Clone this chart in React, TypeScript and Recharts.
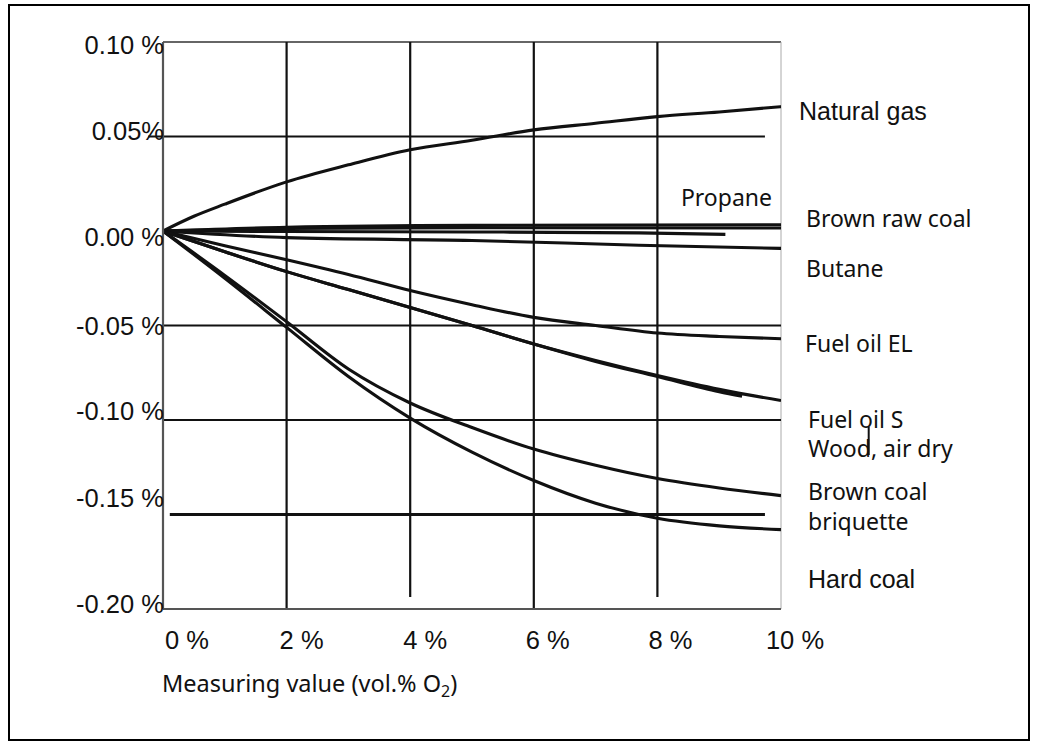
import React from 'react';
import { LineChart, Line, XAxis, YAxis, ReferenceLine } from 'recharts';

// Axis ticks
const xTicks = [0, 2, 4, 6, 8, 10];
const xTickLabels = ['0 %', '2 %', '4 %', '6 %', '8 %', '10 %'];
const yTicks = [0.1, 0.05, 0, -0.05, -0.1, -0.15, -0.2];
const yTickLabels = ['0.10 %', '0.05%', '0.00 %', '-0.05 %', '-0.10 %', '-0.15 %', '-0.20 %'];

const naturalGas = [[0, 0], [0.5, 0.0078], [1, 0.0142], [2, 0.026], [3, 0.035], [4, 0.043], [5, 0.048], [6, 0.0535], [7, 0.057], [8, 0.0605], [9, 0.063], [10, 0.0658]];
const propane = [[0, 0], [2, 0.002], [5, 0.003], [10, 0.0033]];
const brownRawCoal = [[0, 0], [2, 0.0013], [5, 0.0017], [10, 0.0016]];
const propaneShort = [[0, 0], [2, -0.0003], [5, -0.0005], [7.7, -0.001], [9.1, -0.0018]];
const butane = [[0, 0], [2, -0.0035], [5, -0.005], [7.7, -0.0075], [10, -0.0092]];
const fuelOilEL = [[0, 0], [1, -0.0078], [2, -0.0152], [3, -0.023], [4, -0.0315], [5, -0.039], [6, -0.0457], [7, -0.05], [8, -0.054], [9, -0.0558], [10, -0.057]];
const fuelOilS = [[0, 0], [1, -0.011], [2, -0.0215], [3, -0.031], [4, -0.0405], [5, -0.05], [6, -0.0598], [7, -0.069], [8, -0.077], [9, -0.085], [9.37, -0.0874]];
const woodAirDry = [[0, 0], [1, -0.011], [2, -0.0215], [3, -0.031], [4, -0.0405], [5, -0.05], [6, -0.0598], [7, -0.0685], [8, -0.0765], [9, -0.0838], [10, -0.0897]];
const brownCoalBriquette = [[0, 0], [1, -0.0235], [2, -0.048], [3, -0.073], [4, -0.091], [5, -0.104], [6, -0.1154], [7, -0.124], [8, -0.131], [9, -0.136], [10, -0.14]];
const hardCoal = [[0, 0], [1, -0.025], [2, -0.051], [3, -0.077], [4, -0.099], [5, -0.117], [6, -0.132], [7, -0.144], [8, -0.152], [9, -0.156], [10, -0.158]];

const series = [naturalGas, propane, brownRawCoal, propaneShort, butane, fuelOilEL, fuelOilS, woodAirDry, brownCoalBriquette, hardCoal];

const toPoints = (arr: number[][]) => arr.map(([x, y]) => ({ x, y }));

const ARIAL = '"Liberation Sans", Arial, sans-serif';
const HUMAN = '"Noto Sans", sans-serif';
const INK = '#111';

// label nudges (the printed figure is not evenly spaced)
const yLabelBaseline: Record<string, number> = { '0.1': 12, '0.05': 3, '0': 15, '-0.05': 9, '-0.1': 0, '-0.15': -8, '-0.2': 4 };
const xLabelShift: Record<string, number> = { '0': 24, '2': 15, '4': 15, '6': 14, '8': 13, '10': 14 };

function YTick({ x, y, payload }: any) {
  const i = yTicks.indexOf(payload.value);
  return (
    <text x={x + 3} y={y + (yLabelBaseline[String(payload.value)] ?? 8)} textAnchor="end" fontFamily={ARIAL} fontSize={25.5} fill={INK}>
      {yTickLabels[i]}
    </text>
  );
}

function XTick({ x, y, payload }: any) {
  const i = xTicks.indexOf(payload.value);
  return (
    <text x={x + (xLabelShift[String(payload.value)] ?? 14)} y={y + 38} textAnchor="middle" fontFamily={ARIAL} fontSize={25.5} fill={INK}>
      {xTickLabels[i]}
    </text>
  );
}

export default function App() {
  return (
    <div style={{ position: 'absolute', left: 0, top: 0, width: 1038, height: 747, background: '#fff' }}>
      <div style={{ position: 'absolute', left: 8, top: 4, width: 1022, height: 737, border: '2.5px solid #000', boxSizing: 'border-box' }} />
      <div style={{ position: 'absolute', left: 0, top: 0 }}>
        <LineChart width={1038} height={747} margin={{ top: 42, right: 257, bottom: 78, left: 83 }}>
          <XAxis
            type="number"
            dataKey="x"
            domain={[0, 10]}
            ticks={xTicks}
            tick={<XTick />}
            tickLine={false}
            tickSize={0}
            height={60}
            axisLine={{ stroke: '#555', strokeWidth: 2.2 }}
            allowDataOverflow
          />
          <YAxis
            type="number"
            dataKey="y"
            domain={[-0.2, 0.1]}
            ticks={yTicks}
            tick={<YTick />}
            tickLine={false}
            tickSize={0}
            width={80}
            axisLine={{ stroke: '#555', strokeWidth: 2.2 }}
            allowDataOverflow
          />
          <ReferenceLine y={0.1} stroke="#333" strokeWidth={1.5} />
          <ReferenceLine x={10} stroke="#aaa" strokeWidth={1} />
          <ReferenceLine y={-0.05} stroke={INK} strokeWidth={2.2} />
          <ReferenceLine y={-0.1} stroke={INK} strokeWidth={2.2} />
          <ReferenceLine ifOverflow="visible" segment={[{ x: -0.24, y: 0.05 }, { x: 9.74, y: 0.05 }]} stroke={INK} strokeWidth={2.2} />
          <ReferenceLine segment={[{ x: 0.11, y: -0.15 }, { x: 9.74, y: -0.15 }]} stroke={INK} strokeWidth={3} />
          <ReferenceLine x={2} stroke={INK} strokeWidth={2.2} />
          <ReferenceLine x={6} stroke={INK} strokeWidth={2.2} />
          <ReferenceLine segment={[{ x: 4, y: -0.1937 }, { x: 4, y: 0.1 }]} stroke={INK} strokeWidth={2.2} />
          <ReferenceLine segment={[{ x: 8, y: -0.1937 }, { x: 8, y: 0.1 }]} stroke={INK} strokeWidth={2.2} />
          {series.map((s, i) => (
            <Line
              key={i}
              data={toPoints(s)}
              dataKey="y"
              type="monotone"
              stroke={INK}
              strokeWidth={3.1}
              dot={false}
              activeDot={false}
              isAnimationActive={false}
            />
          ))}
        </LineChart>
      </div>
      <svg width={1038} height={747} style={{ position: 'absolute', left: 0, top: 0, pointerEvents: 'none' }}>
        <text x={799} y={120} fontFamily={ARIAL} fontSize={25} fill={INK}>Natural gas</text>
        <text x={772} y={206} textAnchor="end" fontFamily={HUMAN} fontSize={23} fill={INK}>Propane</text>
        <text x={806} y={227} fontFamily={HUMAN} fontSize={23} fill={INK}>Brown raw coal</text>
        <text x={806} y={277} fontFamily={HUMAN} fontSize={23} fill={INK}>Butane</text>
        <text x={805} y={352} fontFamily={HUMAN} fontSize={23} fill={INK}>Fuel oil EL</text>
        <text x={808} y={428} fontFamily={HUMAN} fontSize={23} fill={INK}>Fuel oil S</text>
        <text x={808} y={457} fontFamily={HUMAN} fontSize={23} fill={INK}>Wood, air dry</text>
        <text x={808} y={500} fontFamily={HUMAN} fontSize={23} fill={INK}>Brown coal</text>
        <text x={808} y={530} fontFamily={HUMAN} fontSize={23} fill={INK}>briquette</text>
        <text x={808} y={588} fontFamily={ARIAL} fontSize={25} fill={INK}>Hard coal</text>
        <line x1={868.7} y1={427} x2={868.7} y2={455} stroke={INK} strokeWidth={2} />
        <text x={162} y={692} fontFamily={HUMAN} fontSize={23.5} fill={INK}>
          Measuring value (vol.% O<tspan fontSize={16} dy={5}>2</tspan><tspan dy={-5}>)</tspan>
        </text>
      </svg>
    </div>
  );
}
